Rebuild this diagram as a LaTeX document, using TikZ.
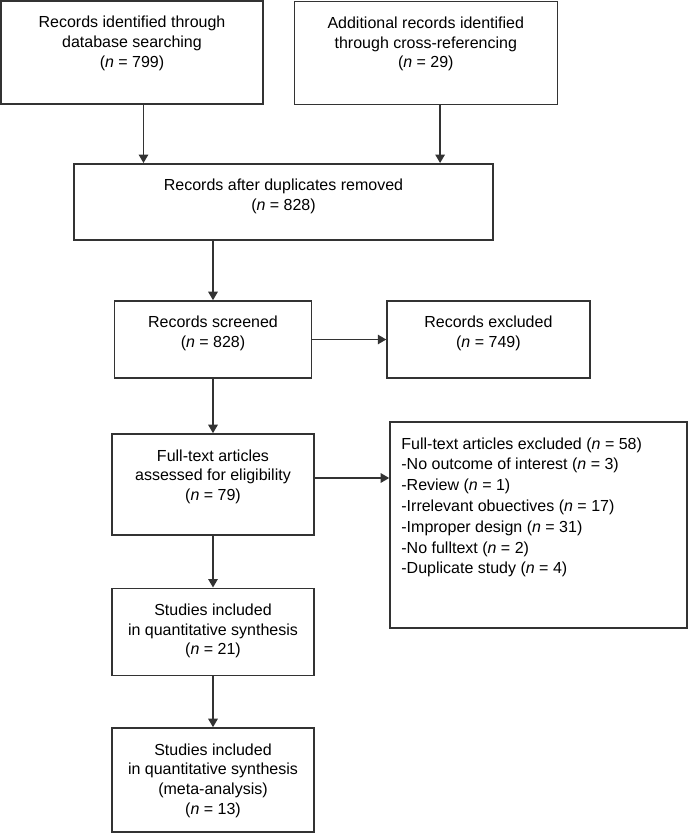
\documentclass[tikz,border=0pt]{standalone}
\usepackage{fontspec}
\setmainfont{Liberation Sans}
\usetikzlibrary{arrows.meta}
\definecolor{linegray}{HTML}{333333}
\tikzset{
  box/.style={draw=linegray, line width=1.6pt, inner sep=0pt},
  boxtext/.style={anchor=north, align=center, inner sep=0pt, yshift=-16pt,
    font=\fontsize{16}{19.7}\selectfont},
  listtext/.style={anchor=north west, align=left, inner sep=0pt, xshift=12pt,
    yshift=-16pt, font=\fontsize{16}{20.8}\selectfont},
  arr/.style={draw=linegray, line width=1.5pt, -{Triangle[length=8.5pt,width=9.5pt]}}
}
\newcommand{\nn}[1]{(\textit{n} = #1)}
\begin{document}
\begin{tikzpicture}[x=1pt, y=-1pt]
  \useasboundingbox (0,0) rectangle (688,833);
  % boxes for the identification
  \node[box, minimum width=262pt, minimum height=103pt,
    label={[boxtext]north:{Records identified through\\database searching\\\nn{799}}}]
    (database) at (132,52.5) {};
  \node[box, minimum width=263pt, minimum height=103pt,
    label={[boxtext]north:{Additional records identified\\through cross-referencing\\\nn{29}}}]
    (crossref) at (425.8,53) {};
  \node[box, minimum width=419.5pt, minimum height=76.3pt,
    label={[boxtext]north:{Records after duplicates removed\\\nn{828}}}]
    (duplicates) at (283.5,202) {};
  % boxes for the screening
  \node[box, minimum width=197pt, minimum height=77pt,
    label={[boxtext]north:{Records screened\\\nn{828}}}]
    (screened) at (213,339.5) {};
  \node[box, minimum width=202.7pt, minimum height=77pt,
    label={[boxtext]north:{Records excluded\\\nn{749}}}]
    (excluded) at (488.4,339.5) {};
  % boxes for the eligibility
  \node[box, minimum width=202pt, minimum height=101pt,
    label={[boxtext]north:{Full-text articles\\assessed for eligibility\\\nn{79}}}]
    (fulltext) at (213,484.5) {};
  \node[box, minimum width=297pt, minimum height=206pt,
    label={[listtext]north west:{Full-text articles excluded \nn{58}\\
      -No outcome of interest \nn{3}\\
      -Review \nn{1}\\
      -Irrelevant obuectives \nn{17}\\
      -Improper design \nn{31}\\
      -No fulltext \nn{2}\\
      -Duplicate study \nn{4}}}]
    (fulltextexcl) at (538.5,525) {};
  % boxes for the inclusion
  \node[box, minimum width=202pt, minimum height=87pt,
    label={[boxtext]north:{Studies included\\in quantitative synthesis\\\nn{21}}}]
    (included) at (213,631.8) {};
  \node[box, minimum width=202pt, minimum height=104pt,
    label={[boxtext]north:{Studies included\\in quantitative synthesis\\(meta-analysis)\\\nn{13}}}]
    (metaanalysis) at (213,780) {};
  % drawing the arrows
  \draw[arr] ([xshift=11.5pt]database.south) -- ([xshift=11.5pt]database.south |- duplicates.north);
  \draw[arr] ([xshift=14.3pt]crossref.south) -- ([xshift=14.3pt]crossref.south |- duplicates.north);
  \draw[arr] (duplicates.south -| screened.north) -- (screened.north);
  \draw[arr] (screened.east) -- (excluded.west);
  \draw[arr] (screened.south) -- (fulltext.north);
  \draw[arr] ([yshift=6.5pt]fulltext.east) -- ([yshift=6.5pt]fulltext.east -| fulltextexcl.west);
  \draw[arr] (fulltext.south) -- (included.north);
  \draw[arr] (included.south) -- (metaanalysis.north);
\end{tikzpicture}
\end{document}
